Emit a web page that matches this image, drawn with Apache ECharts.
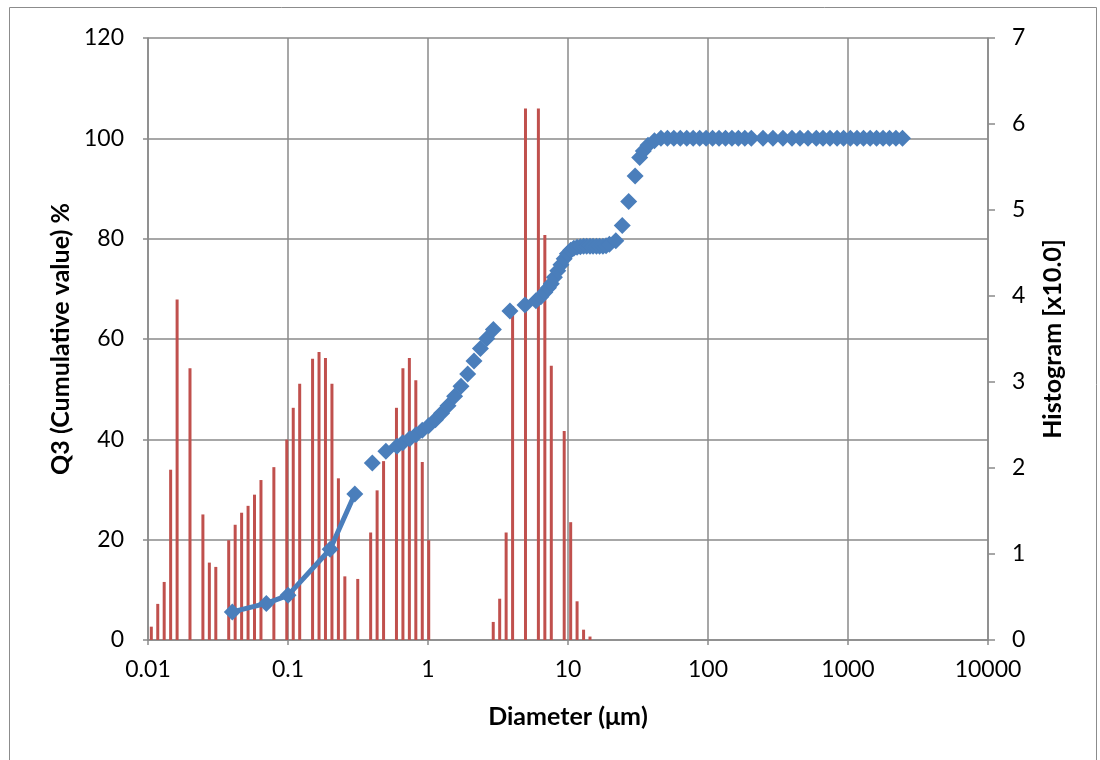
<!DOCTYPE html>
<html>
<head>
<meta charset="utf-8">
<script src="https://cdn.jsdelivr.net/npm/echarts@6/dist/echarts.min.js"></script>
<style>
  html, body { margin: 0; padding: 0; background: #fff; }
  #chart { width: 1100px; height: 760px; }
</style>
</head>
<body>
<div id="chart"></div>
<script>
// Histogram channels: diameter (µm) and frequency (×10.0)
const histD = [0.01056, 0.01174, 0.01305, 0.01451, 0.01614, 0.01995, 0.02467, 0.02743, 0.03050,
  0.03771, 0.04194, 0.04663, 0.05185, 0.05766, 0.06411, 0.07926, 0.09801, 0.1090, 0.1212,
  0.1498, 0.1666, 0.1852, 0.2060, 0.2291, 0.2547, 0.3149, 0.3894, 0.4330, 0.4815,
  0.5953, 0.6620, 0.7361, 0.8185, 0.9101, 1.012,
  2.924, 3.251, 3.615, 4.020, 4.970, 6.145, 6.833, 7.598, 9.394, 10.45, 11.61, 12.92, 14.36];
const histV = [0.155, 0.42, 0.675, 1.98, 3.96, 3.16, 1.46, 0.90, 0.85,
  1.16, 1.34, 1.48, 1.56, 1.69, 1.86, 2.01, 2.33, 2.70, 2.98,
  3.27, 3.35, 3.28, 2.98, 1.88, 0.74, 0.71, 1.25, 1.74, 2.08,
  2.70, 3.16, 3.28, 3.02, 2.07, 1.16,
  0.21, 0.48, 1.25, 3.88, 6.18, 6.18, 4.71, 3.19, 2.43, 1.37, 0.45, 0.12, 0.04];

// Cumulative Q3 (%): fine-particle points joined by a line
const q3LineD = [0.04, 0.07, 0.1, 0.2, 0.3];
const q3LineV = [5.6, 7.3, 8.9, 18.1, 29.1];

// Cumulative Q3 (%): remaining points, markers only
const q3PointD = [0.4, 0.5, 0.6, 0.66, 0.74, 0.82, 0.91, 1.01, 1.13, 1.25, 1.39, 1.55, 1.72, 1.92,
  2.13, 2.37, 2.63, 2.93, 3.85, 4.93, 5.9, 6.4, 6.83, 7.25, 7.6, 8.0, 8.45, 8.9, 9.39, 9.9,
  10.45, 11.0, 11.61, 12.26, 12.92, 13.6, 14.36, 15.1, 15.97, 16.8, 17.76, 18.7, 19.74,
  21.95, 24.4, 27.13, 30.17, 32.5, 34.5, 37.29, 41.46, 46.1, 51.3, 57, 63.4, 70.5, 78.4,
  87.2, 97, 107.8, 119.9, 133.3, 148.2, 164.8, 183.3, 203.8, 247, 291, 343, 398, 454, 518,
  594, 663, 744, 835, 930, 1040, 1160, 1290, 1440, 1600, 1780, 1980, 2200, 2450];
const q3PointV = [35.3, 37.6, 38.6, 39.3, 40.1, 40.9, 41.8, 42.7, 43.9, 45.2, 46.7, 48.6, 50.6, 53.0,
  55.6, 58.1, 60.1, 61.9, 65.6, 66.8, 67.6, 68.4, 69.3, 70.2, 71.0, 72.3, 73.6, 74.8, 76.0, 77.0,
  77.7, 78.1, 78.3, 78.4, 78.5, 78.5, 78.5, 78.5, 78.5, 78.5, 78.5, 78.6, 78.9,
  79.6, 82.6, 87.4, 92.5, 96.2, 97.5, 98.6, 99.5, 100, 100, 100, 100, 100, 100,
  100, 100, 100, 100, 100, 100, 100, 100, 100, 100, 100, 100, 100, 100, 100,
  100, 100, 100, 100, 100, 100, 100, 100, 100, 100, 100, 100, 100, 100];

const leftTicks = { min: 0, max: 120, interval: 20 };
const rightTicks = { min: 0, max: 7, interval: 1 };

const zip = (a, b) => a.map((v, i) => [v, b[i]]);

const gridColor = '#8a8a8a';
const blue = '#4A7EBB';
const red = '#C0504D';
const font = 'Lato, "Open Sans", sans-serif';
const titleStyle = { fontFamily: font, fontWeight: 'bold', fontSize: 25, color: '#000' };

const chart = echarts.init(document.getElementById('chart'), null, { renderer: 'canvas' });

chart.setOption({
  backgroundColor: '#ffffff',
  animation: false,
  textStyle: { fontFamily: font, color: '#000' },
  graphic: [{
    type: 'rect',
    shape: { x: 9.5, y: 7.5, width: 1087, height: 760 },
    style: { fill: 'none', stroke: '#8c8c8c', lineWidth: 1 },
    silent: true
  }],
  grid: { left: 148, right: 112, top: 38, bottom: 120, containLabel: false },
  xAxis: {
    type: 'log',
    logBase: 10,
    min: 0.01,
    max: 10000,
    name: 'Diameter (\u03bcm)',
    nameLocation: 'middle',
    nameGap: 64,
    nameTextStyle: titleStyle,
    axisLine: { show: true, onZero: false, lineStyle: { color: gridColor, width: 1.5 } },
    axisTick: { show: true, inside: false, length: 5, lineStyle: { color: gridColor, width: 1.5 } },
    minorTick: { show: false },
    axisLabel: {
      margin: 18,
      fontFamily: font,
      fontSize: 23,
      color: '#000',
      formatter: v => String(Number(Number(v).toPrecision(6)))
    },
    splitLine: { show: true, lineStyle: { color: gridColor, width: 1.5 } }
  },
  yAxis: [{
    type: 'value',
    position: 'left',
    min: leftTicks.min,
    max: leftTicks.max,
    interval: leftTicks.interval,
    name: 'Q3 (Cumulative value) %',
    nameLocation: 'middle',
    nameRotate: 90,
    nameGap: 73,
    nameTextStyle: titleStyle,
    axisLine: { show: true, lineStyle: { color: gridColor, width: 1.5 } },
    axisTick: { show: true, inside: false, length: 5, lineStyle: { color: gridColor, width: 1.5 } },
    axisLabel: { margin: 24, fontFamily: font, fontSize: 23, color: '#000' },
    splitLine: { show: true, lineStyle: { color: gridColor, width: 1.5 } }
  }, {
    type: 'value',
    position: 'right',
    min: rightTicks.min,
    max: rightTicks.max,
    interval: rightTicks.interval,
    name: 'Histogram [x10.0]',
    nameLocation: 'middle',
    nameRotate: 90,
    nameGap: 52,
    nameTextStyle: titleStyle,
    axisLine: { show: true, lineStyle: { color: gridColor, width: 1.5 } },
    axisTick: { show: true, inside: false, length: 7, lineStyle: { color: gridColor, width: 1.5 } },
    axisLabel: { margin: 24, fontFamily: font, fontSize: 23, color: '#000' },
    splitLine: { show: false }
  }],
  series: [{
    name: 'Histogram',
    type: 'custom',
    xAxisIndex: 0,
    yAxisIndex: 1,
    z: 1,
    encode: { x: 0, y: 1 },
    data: zip(histD, histV),
    renderItem: function (params, api) {
      const x = api.value(0);
      const v = api.value(1);
      const top = api.coord([x, v]);
      const base = api.coord([x, 0]);
      return {
        type: 'rect',
        shape: { x: top[0] - 1.5, y: top[1], width: 3, height: base[1] - top[1] },
        style: { fill: red }
      };
    }
  }, {
    name: 'Q3',
    type: 'line',
    xAxisIndex: 0,
    yAxisIndex: 0,
    z: 3,
    data: zip(q3LineD, q3LineV),
    symbol: 'diamond',
    symbolSize: 17,
    showAllSymbol: true,
    itemStyle: { color: blue },
    lineStyle: { color: blue, width: 5 }
  }, {
    name: 'Q3 points',
    type: 'scatter',
    xAxisIndex: 0,
    yAxisIndex: 0,
    z: 3,
    data: zip(q3PointD, q3PointV),
    symbol: 'diamond',
    symbolSize: 17,
    itemStyle: { color: blue, opacity: 1 }
  }]
});
</script>
</body>
</html>
